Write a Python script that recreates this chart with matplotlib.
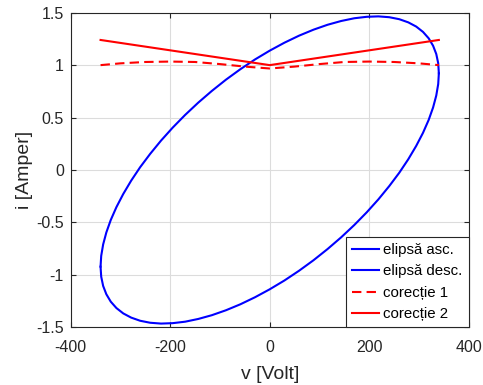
import matplotlib
matplotlib.use("Agg")
import matplotlib.pyplot as plt

# ---- data ----
# ascending half of the ellipse (lower branch, v increasing)
v_asc = [-340.0, -338.7, -334.8, -328.4, -319.5, -308.1, -294.4, -278.5, -260.5, -240.4,
         -218.5, -195.0, -170.0, -143.7, -116.3, -88.0, -59.0, -29.6, 0.0,
         29.6, 59.0, 88.0, 116.3, 143.7, 170.0, 195.0, 218.5, 240.4, 260.5,
         278.5, 294.4, 308.1, 319.5, 328.4, 334.8, 338.7, 340.0]
i_asc = [-0.922, -1.018, -1.106, -1.185, -1.256, -1.317, -1.368, -1.408, -1.438, -1.457,
         -1.465, -1.461, -1.447, -1.421, -1.385, -1.338, -1.281, -1.214, -1.138,
         -1.054, -0.961, -0.861, -0.754, -0.642, -0.525, -0.404, -0.280, -0.153, -0.026,
         0.102, 0.229, 0.354, 0.477, 0.596, 0.710, 0.819, 0.922]
# descending half of the ellipse (upper branch, v decreasing)
v_desc = [340.0, 338.7, 334.8, 328.4, 319.5, 308.1, 294.4, 278.5, 260.5, 240.4,
          218.5, 195.0, 170.0, 143.7, 116.3, 88.0, 59.0, 29.6, 0.0,
          -29.6, -59.0, -88.0, -116.3, -143.7, -170.0, -195.0, -218.5, -240.4, -260.5,
          -278.5, -294.4, -308.1, -319.5, -328.4, -334.8, -338.7, -340.0]
i_desc = [0.922, 1.018, 1.106, 1.185, 1.256, 1.317, 1.368, 1.408, 1.438, 1.457,
          1.465, 1.461, 1.447, 1.421, 1.385, 1.338, 1.281, 1.214, 1.138,
          1.054, 0.961, 0.861, 0.754, 0.642, 0.525, 0.404, 0.280, 0.153, 0.026,
          -0.102, -0.229, -0.354, -0.477, -0.596, -0.710, -0.819, -0.922]
# correction 1 (dashed)
v_c1 = [-340, -300, -250, -200, -150, -100, -50, 0, 50, 100, 150, 200, 250, 300, 340]
i_c1 = [1.000, 1.017, 1.030, 1.034, 1.030, 1.010, 0.986, 0.968, 0.986, 1.010, 1.030,
        1.034, 1.030, 1.017, 1.000]
# correction 2 (solid)
v_c2 = [-340, 0, 340]
i_c2 = [1.24, 1.00, 1.24]

labels = ["elips\u0103 asc.", "elips\u0103 desc.", "corec\u021bie 1", "corec\u021bie 2"]
xticks = [-400, -200, 0, 200, 400]
yticks = [-1.5, -1, -0.5, 0, 0.5, 1, 1.5]
ytick_labels = ["-1.5", "-1", "-0.5", "0", "0.5", "1", "1.5"]

plt.rcParams['font.family'] = ['Liberation Sans', 'DejaVu Sans']
dark = '#262626'

fig = plt.figure(figsize=(4.83, 3.85), dpi=100)
ax = fig.add_axes([0.1464, 0.150, 0.824, 0.817])

lw = 1.5
ax.plot(v_asc, i_asc, color=(0, 0, 1), lw=lw, label=labels[0])
ax.plot(v_desc, i_desc, color=(0, 0, 1), lw=lw, label=labels[1])
ax.plot(v_c1, i_c1, color=(1, 0, 0), lw=lw, dashes=(4.5, 2.5), label=labels[2])
ax.plot(v_c2, i_c2, color=(1, 0, 0), lw=lw, label=labels[3])

ax.set_xlim(-400, 400)
ax.set_ylim(-1.5, 1.5)
ax.set_xticks(xticks)
ax.set_xticklabels([str(t) for t in xticks])
ax.set_yticks(yticks)
ax.set_yticklabels(ytick_labels)
ax.grid(True, color='#dcdcdc', lw=0.8)
ax.set_axisbelow(True)
ax.tick_params(direction='in', length=3.5, width=0.8, top=True, right=True,
               labelsize=11.5, colors=dark, labelcolor=dark)
ax.tick_params(axis='x', pad=9)
ax.tick_params(axis='y', pad=5)
for s in ax.spines.values():
    s.set_color(dark)
    s.set_linewidth(0.8)

ax.set_xlabel("v [Volt]", fontsize=14, color=dark, labelpad=8)
ax.set_ylabel("i [Amper]", fontsize=14, color=dark, labelpad=2)

leg = ax.legend(loc='lower right', fontsize=10.8, frameon=True, fancybox=False,
                edgecolor=dark, framealpha=1, borderaxespad=0, handlelength=1.8,
                handletextpad=0.3, labelspacing=0.5, borderpad=0.4)
leg.get_frame().set_linewidth(0.8)

fig.savefig("out.png", dpi=100)
